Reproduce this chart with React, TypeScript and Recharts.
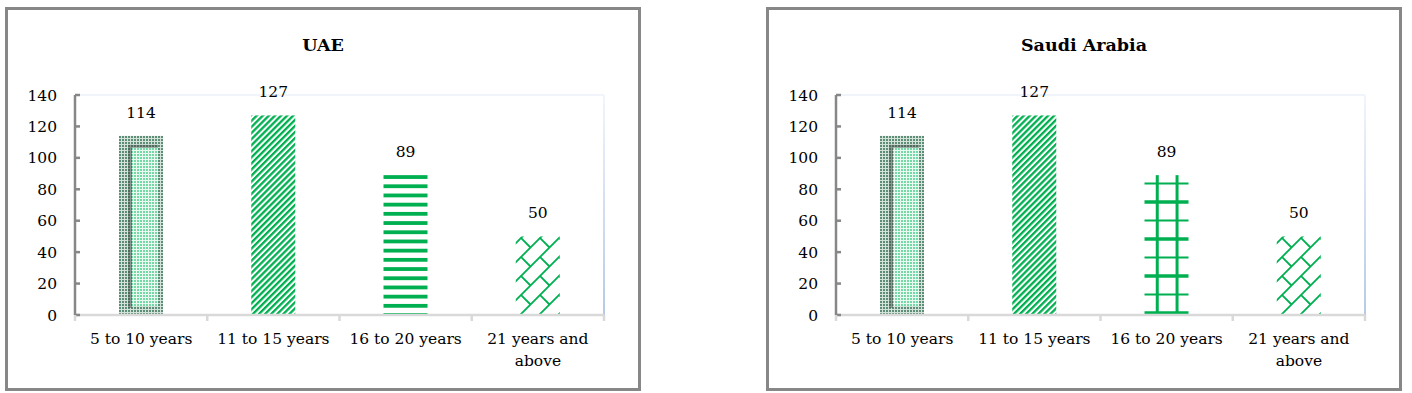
import React from 'react';
import { BarChart, Bar, XAxis, YAxis, CartesianGrid, LabelList } from 'recharts';

// --- data ---
const CATEGORIES = ['5 to 10 years', '11 to 15 years', '16 to 20 years', '21 years and above'];
const UAE_VALUES = [114, 127, 89, 50];
const SAUDI_VALUES = [114, 127, 89, 50];
const Y_TICKS = [0, 20, 40, 60, 80, 100, 120, 140];
const UAE_FILLS = ['bevel', 'diagonal', 'hstripes', 'shingle'];
const SAUDI_FILLS = ['bevel', 'diagonal', 'grid', 'shingle'];

const GREEN = '#00b050';
const FONT = '"DejaVu Serif", serif';
const CHART_W = 630;
const CHART_H = 378;
const MARGIN = { top: 85, right: 34, bottom: 13, left: 0 };
const PLOT_W = CHART_W - 67 - MARGIN.right;

function wrap(label: string, max = 15) {
  const lines: string[] = [];
  let cur = '';
  for (const w of label.split(' ')) {
    const next = cur ? cur + ' ' + w : w;
    if (next.length > max && cur) {
      lines.push(cur);
      cur = w;
    } else cur = next;
  }
  if (cur) lines.push(cur);
  return lines;
}

// --- x tick: boundary tick marks + wrapped label ---
const XTick = ({ x, y, payload, index }: any) => {
  const half = typeof payload?.offset === 'number' && payload.offset > 0
    ? payload.offset : PLOT_W / CATEGORIES.length / 2;
  const lines = wrap(String(payload.value));
  return (
    <g>
      <line x1={x - half} x2={x - half} y1={y} y2={y + 6} stroke="#d9d9d9" strokeWidth={2.5} />
      {index === CATEGORIES.length - 1 && (
        <line x1={x + half} x2={x + half} y1={y} y2={y + 6} stroke="#d9d9d9" strokeWidth={2.5} />
      )}
      <text x={x} y={y + 29} textAnchor="middle" fontSize={15.5} fill="#000" fontFamily={FONT}>
        {lines.map((l, i) => (
          <tspan key={i} x={x} dy={i === 0 ? 0 : 22}>{l}</tspan>
        ))}
      </text>
    </g>
  );
};

// --- bar shapes ---
function PatternBar({ x, y, width, height, kind }: any) {
  if (!height || height <= 0) return null;
  if (kind === 'bevel') {
    return (
      <g>
        <rect x={x} y={y} width={width} height={height} fill="url(#dotsOuter)" />
        <rect x={x + 9} y={y + 9} width={4} height={height - 16} fill="url(#dotsDark)" />
        <rect x={x + 9} y={y + 9} width={width - 14} height={3} fill="url(#dotsDark)" />
        <rect x={x + 13} y={y + 12} width={width - 18} height={height - 21} fill="url(#dotsInner)" />
      </g>
    );
  }
  if (kind === 'diagonal') {
    return <rect x={x} y={y} width={width} height={height} fill="url(#diag)" />;
  }
  if (kind === 'shingle') {
    return <rect x={x} y={y} width={width} height={height} fill="url(#shingle)" />;
  }
  if (kind === 'hstripes') {
    const rows = [];
    for (let yy = y, k = 0; yy < y + height - 1; yy += 9.2, k++) {
      rows.push(<rect key={k} x={x} y={yy} width={width} height={Math.min(3.8, y + height - yy)} fill={GREEN} />);
    }
    return <g>{rows}</g>;
  }
  // grid
  const bottom = y + height;
  const rows = [];
  for (let k = 0; bottom - 2 - k * 18.5 > y + 4; k++) {
    const yy = bottom - 2 - k * 18.5;
    rows.push(
      <line key={k} x1={x} x2={x + width} y1={yy} y2={yy} stroke={GREEN} strokeWidth={k % 2 === 0 ? 3.5 : 2} />
    );
  }
  return (
    <g>
      {rows}
      <line x1={x + width * 0.29} x2={x + width * 0.29} y1={y} y2={bottom} stroke={GREEN} strokeWidth={3} />
      <line x1={x + width * 0.74} x2={x + width * 0.74} y1={y} y2={bottom} stroke={GREEN} strokeWidth={3} />
    </g>
  );
}

function Panel({ left, title, values, fills }: { left: number; title: string; values: number[]; fills: string[] }) {
  const data = CATEGORIES.map((name, i) => ({ name, value: values[i] }));
  return (
    <div
      style={{
        position: 'absolute', left, top: 7, width: 636, height: 384, boxSizing: 'border-box',
        border: '3px solid #878787', background: '#fff',
      }}
    >
      <div
        style={{
          position: 'absolute', left: 0, right: 0, top: 25, lineHeight: '20px', textAlign: 'center',
          fontWeight: 'bold', fontSize: 17.5, fontFamily: FONT, color: '#000',
        }}
      >
        {title}
      </div>
      <div style={{ position: 'absolute', left: 0, top: 0 }}>
        <BarChart width={CHART_W} height={CHART_H} data={data} margin={MARGIN}>
          <CartesianGrid
            stroke="url(#edgeGrad)"
            strokeWidth={2}
            horizontalCoordinatesGenerator={({ offset }: any) => [offset.top]}
            verticalCoordinatesGenerator={({ offset }: any) => [offset.left + offset.width]}
          />
          <XAxis
            dataKey="name"
            height={60}
            interval={0}
            axisLine={{ stroke: '#d9d9d9', strokeWidth: 2.5 }}
            tickLine={false}
            tickSize={0}
            tickMargin={0}
            tick={<XTick />}
          />
          <YAxis
            type="number"
            domain={[0, 140]}
            ticks={Y_TICKS}
            interval={0}
            width={67}
            axisLine={{ stroke: '#878787', strokeWidth: 2.5 }}
            tickLine={{ stroke: '#878787', strokeWidth: 2.5 }}
            tickSize={-5}
            tickMargin={23}
            tick={{ fill: '#000', fontSize: 15.5, fontFamily: FONT }}
          />
          <Bar
            dataKey="value"
            barSize={44}
            isAnimationActive={false}
            shape={(p: any) => <PatternBar {...p} kind={fills[p.index]} />}
          >
            <LabelList dataKey="value" position="top" offset={18} fill="#000" fontSize={15.5} fontFamily={FONT} />
          </Bar>
        </BarChart>
      </div>
    </div>
  );
}

export default function App() {
  return (
    <div style={{ position: 'absolute', left: 0, top: 0, width: 1412, height: 393, background: '#fff' }}>
      <svg width={0} height={0} style={{ position: 'absolute' }}>
        <defs>
          <linearGradient id="edgeGrad" gradientUnits="userSpaceOnUse" x1={0} y1={85} x2={0} y2={305}>
            <stop offset="0%" stopColor="#f1f5fb" />
            <stop offset="100%" stopColor="#b6c9e6" />
          </linearGradient>
          <pattern id="dotsOuter" width={3} height={3} patternUnits="userSpaceOnUse">
            <rect width={3} height={3} fill="#d3e3da" />
            <rect width={2} height={2} fill="#5e8d77" />
          </pattern>
          <pattern id="dotsDark" width={3} height={3} patternUnits="userSpaceOnUse">
            <rect width={3} height={3} fill="#8a9a92" />
            <rect width={2} height={2} fill="#4f6b5e" />
          </pattern>
          <pattern id="dotsInner" width={3} height={3} patternUnits="userSpaceOnUse">
            <rect width={3} height={3} fill="#eafaf1" />
            <rect width={2} height={2} fill="#74d9a7" />
          </pattern>
          <pattern id="diag" width={4.3} height={4.3} patternUnits="userSpaceOnUse" patternTransform="rotate(45)">
            <rect width={4.3} height={4.3} fill="#fff" />
            <rect width={2.3} height={4.3} fill={GREEN} />
          </pattern>
          <pattern id="shingle" width={19} height={19} patternUnits="userSpaceOnUse">
            <path
              d="M-2,21 L21,-2 M-1,-1 L9.5,9.5 M17,21 L21,17 M-2,2 L2,-2"
              stroke={GREEN}
              strokeWidth={1.8}
              fill="none"
            />
          </pattern>
        </defs>
      </svg>
      <Panel left={5} title="UAE" values={UAE_VALUES} fills={UAE_FILLS} />
      <Panel left={766} title="Saudi Arabia" values={SAUDI_VALUES} fills={SAUDI_FILLS} />
    </div>
  );
}
